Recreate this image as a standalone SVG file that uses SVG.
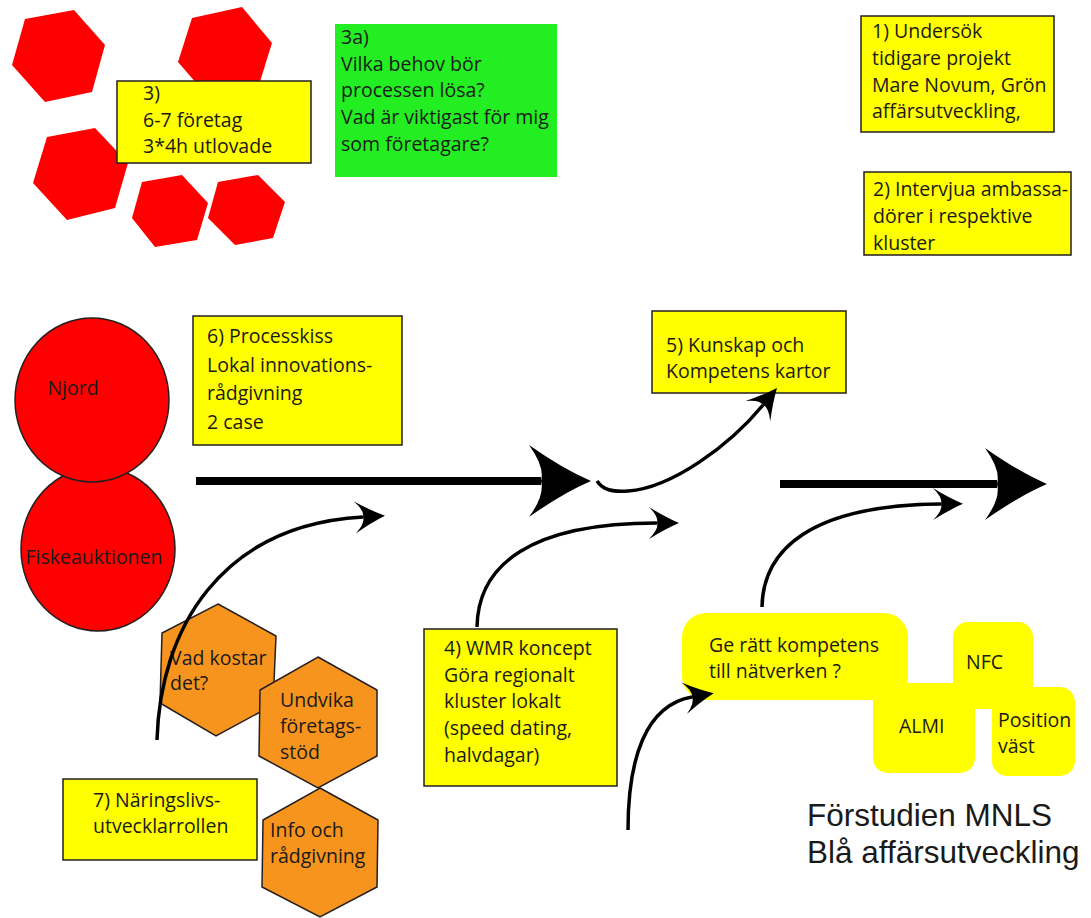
<svg xmlns="http://www.w3.org/2000/svg" width="1091" height="918" viewBox="0 0 1091 918">
<style>
.box{fill:#ffff00;stroke:#231f20;stroke-width:1.5}
.grn{fill:#22ee22}
.red{fill:#ff0000}
.rc{fill:#ff0000;stroke:#231f20;stroke-width:1.5}
.org{fill:#f7941d;stroke:#231f20;stroke-width:1.5}
.blob{fill:#ffff00}
.t{font-family:"Open Sans","Liberation Sans",sans-serif;font-size:19.5px;fill:#1a1a1a}
.title{font-family:"Liberation Sans",Arial,sans-serif;font-size:31.5px;fill:#1a1a1a}
.thin{fill:none;stroke:#000;stroke-width:3.5;marker-end:url(#sh)}
.thick{fill:none;stroke:#000;stroke-width:8;marker-end:url(#bh)}
</style>
<defs>
<marker id="sh" markerUnits="userSpaceOnUse" orient="auto" markerWidth="40" markerHeight="40" refX="0" refY="0" viewBox="-10 -20 40 40" overflow="visible">
<path d="M22,0 Q8,-6 -8,-16 Q2,-6 0,0 Q2,6 -8,16 Q8,6 22,0 Z" fill="#000"/>
</marker>
<marker id="bh" markerUnits="userSpaceOnUse" orient="auto" markerWidth="80" markerHeight="80" refX="0" refY="0" viewBox="-20 -40 80 80" overflow="visible">
<path d="M50,0 Q22,-12 -12,-36 Q4,-14 0,0 Q4,14 -12,36 Q22,12 50,0 Z" fill="#000"/>
</marker>
</defs>

<g id="red-hexagons">
<polygon class="red" points="25,19 74,10 105,45 92,92 45,102 12,65"/>
<polygon class="red" points="192,18 242,7 272,43 258,88 210,99 178,62"/>
<polygon class="red" points="47,137 95,128 128,163 115,208 67,220 33,183"/>
<polygon class="red" points="142,182 182,175 208,203 197,240 155,247 132,218"/>
<polygon class="red" points="218,182 258,175 285,202 273,238 235,245 208,218"/>
</g>

<g id="node3">
<rect class="box" x="117" y="81" width="194" height="82"/>
<text class="t"><tspan x="143" y="100">3)</tspan><tspan x="143" y="127">6-7 företag</tspan><tspan x="143" y="153">3*4h utlovade</tspan></text>
</g>

<g id="node3a">
<rect class="grn" x="335" y="24" width="222" height="153"/>
<text class="t"><tspan x="341" y="44">3a)</tspan><tspan x="341" y="71">Vilka behov bör</tspan><tspan x="341" y="97">processen lösa?</tspan><tspan x="341" y="124">Vad är viktigast för mig</tspan><tspan x="341" y="151">som företagare?</tspan></text>
</g>

<g id="node1">
<rect class="box" x="861" y="16" width="193" height="116"/>
<text class="t"><tspan x="872" y="38">1) Undersök</tspan><tspan x="872" y="65">tidigare projekt</tspan><tspan x="872" y="92">Mare Novum, Grön</tspan><tspan x="872" y="118">affärsutveckling,</tspan></text>
</g>

<g id="node2">
<rect class="box" x="864" y="172" width="207" height="83"/>
<text class="t"><tspan x="873" y="196">2) Intervjua ambassa-</tspan><tspan x="873" y="223">dörer i respektive</tspan><tspan x="873" y="250">kluster</tspan></text>
</g>

<g id="fiskeauktionen">
<ellipse class="rc" cx="98" cy="549" rx="77" ry="82"/>
<text class="t" x="94" y="564" text-anchor="middle">Fiskeauktionen</text>
</g>

<g id="njord">
<ellipse class="rc" cx="92" cy="400" rx="77" ry="82"/>
<text class="t" x="73" y="395" text-anchor="middle">Njord</text>
</g>

<g id="node6">
<rect class="box" x="193" y="316" width="209" height="129"/>
<text class="t"><tspan x="207" y="343">6) Processkiss</tspan><tspan x="207" y="372">Lokal innovations-</tspan><tspan x="207" y="400">rådgivning</tspan><tspan x="207" y="429">2 case</tspan></text>
</g>

<g id="node5">
<rect class="box" x="652" y="311" width="194" height="82"/>
<text class="t"><tspan x="666" y="352">5) Kunskap och</tspan><tspan x="666" y="378">Kompetens kartor</tspan></text>
</g>

<g id="node4">
<rect class="box" x="424" y="629" width="193" height="157"/>
<text class="t"><tspan x="444" y="655">4) WMR koncept</tspan><tspan x="444" y="682">Göra regionalt</tspan><tspan x="444" y="708">kluster lokalt</tspan><tspan x="444" y="735">(speed dating,</tspan><tspan x="444" y="762">halvdagar)</tspan></text>
</g>

<g id="hex-vad-kostar">
<polygon class="org" points="218,604 276,636 273,705 216,736 160,703 162,633"/>
<text class="t"><tspan x="170" y="665">Vad kostar</tspan><tspan x="170" y="690">det?</tspan></text>
</g>

<g id="hex-undvika">
<polygon class="org" points="318,657 377,690 377,756 318,788 259,756 260,690"/>
<text class="t"><tspan x="280" y="707">Undvika</tspan><tspan x="280" y="733">företags-</tspan><tspan x="280" y="759">stöd</tspan></text>
</g>

<g id="hex-info">
<polygon class="org" points="320,788 378,820 377,887 320,917 262,887 263,820"/>
<text class="t"><tspan x="270" y="837">Info och</tspan><tspan x="270" y="863">rådgivning</tspan></text>
</g>

<g id="node7">
<rect class="box" x="63" y="779" width="194" height="81"/>
<text class="t"><tspan x="93" y="807">7) Näringslivs-</tspan><tspan x="93" y="833">utvecklarrollen</tspan></text>
</g>

<g id="blob">
<rect class="blob" x="682" y="613" width="226" height="87" rx="24"/>
<rect class="blob" x="873" y="683" width="102" height="90" rx="15"/>
<rect class="blob" x="953" y="622" width="80" height="87" rx="15"/>
<rect class="blob" x="992" y="687" width="83" height="89" rx="15"/>
<rect class="blob" x="880" y="683" width="90" height="17"/>
<text class="t"><tspan x="709" y="652">Ge rätt kompetens</tspan><tspan x="709" y="678">till nätverken ?</tspan></text>
<text class="t" x="966" y="669">NFC</text>
<text class="t" x="899" y="733">ALMI</text>
<text class="t"><tspan x="998" y="727">Position</tspan><tspan x="998" y="753">väst</tspan></text>
</g>

<g id="title">
<text class="title"><tspan x="807" y="826">Förstudien MNLS</tspan><tspan x="807" y="863">Blå affärsutveckling</tspan></text>
</g>

<g id="connectors">
<path class="thick" d="M196,481 L541,481"/>
<path class="thick" d="M780,484 L997,484"/>
<path class="thin" d="M597,481 C603,490 612,492 628,491 C672,488 730,445 763,405"/>
<path class="thin" d="M157,740 C160,630 220,525 363,517"/>
<path class="thin" d="M477,627 C478,565 530,523 657,523"/>
<path class="thin" d="M762,607 C763,550 810,505 941,504"/>
<path class="thin" d="M628,830 C628,760 645,705 692,697"/>
</g>
</svg>
